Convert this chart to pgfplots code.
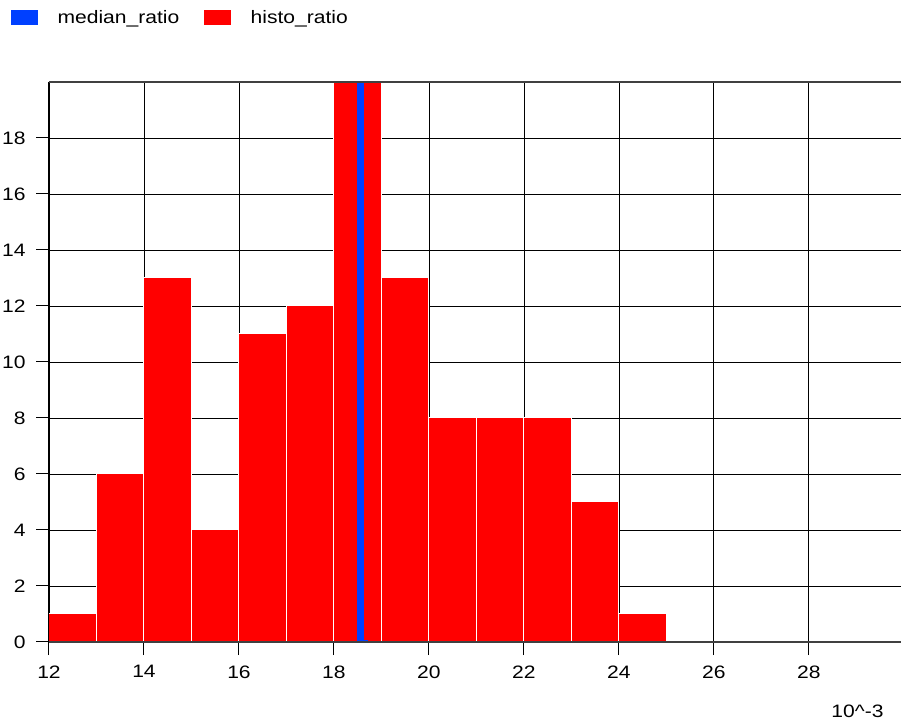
\documentclass[border=0pt]{standalone}
\usepackage{pgfplots}
\pgfplotsset{compat=1.18}
\usepackage{fontspec}
\setmainfont{Liberation Sans}[FakeStretch=1.17]
\newfontfamily\legfont[FakeStretch=1.17]{Liberation Sans}
\definecolor{medblue}{RGB}{0,64,255}
\definecolor{histred}{RGB}{255,0,0}
\definecolor{axgray}{RGB}{64,64,64}
\begin{document}
\begin{tikzpicture}
\path[use as bounding box] (0,0) rectangle (901bp,720bp);
\begin{axis}[
  at={(49bp,78bp)}, anchor=south west,
  scale only axis, width=852bp, height=560bp,
  xmin=12, xmax=29.94, ymin=0, ymax=20,
  xtick={12,14,...,28}, ytick={0,2,...,18},
  grid=major, grid style={black, line width=0.8bp},
  axis x line*=bottom, axis y line*=left,
  x axis line style={axgray, line width=1.6bp},
  y axis line style={black, line width=1bp},
  tick align=outside, major tick length=13bp,
  tick style={black, line width=1bp},
  tick label style={font=\fontsize{18bp}{20bp}\selectfont},
  xticklabel style={yshift=-7bp},
  yticklabel style={xshift=-7bp},
  /pgf/number format/assume math mode=true,
  clip=false,
  legend style={at={(-0.0446,1.132)}, anchor=north west, draw=none, fill=none,
    legend columns=2, font=\legfont\fontsize{18bp}{20bp}\selectfont,
    /tikz/every odd column/.append style={column sep=18bp},
    /tikz/every even column/.append style={column sep=23bp}, inner sep=0pt},
  legend cell align=left,
]
\addlegendimage{legend image code/.code={\fill[medblue] (0bp,-7bp) rectangle (26bp,7bp);}}
\addlegendentry{median\_ratio}
\addlegendimage{legend image code/.code={\fill[histred] (0bp,-7bp) rectangle (26bp,7bp);}}
\addlegendentry{histo\_ratio}
\addplot[ybar interval, fill=histred, draw=white, line width=1bp, forget plot] coordinates {
  (12,1) (13,6) (14,13) (15,4) (16,11) (17,12) (18,20) (19,13)
  (20,8) (21,8) (22,8) (23,5) (24,1) (25,1)
};
\addplot[fill=medblue, draw=none, forget plot] coordinates {
  (18.487,0) (18.487,20) (18.629,20) (18.629,0.07) (18.713,0.07) (18.713,0)
} -- cycle;
\draw[axgray, line width=2bp] (rel axis cs:0,1) -- (rel axis cs:1,1);
\draw[axgray, line width=1.6bp] (rel axis cs:0,0) -- (rel axis cs:1,0);
\draw[black, line width=1bp] (rel axis cs:0,0) -- (rel axis cs:0,1);
\end{axis}
\node[anchor=base east, font=\legfont\fontsize{18bp}{20bp}\selectfont] at (887bp,3bp) {10\textasciicircum-3};
\end{tikzpicture}
\end{document}
